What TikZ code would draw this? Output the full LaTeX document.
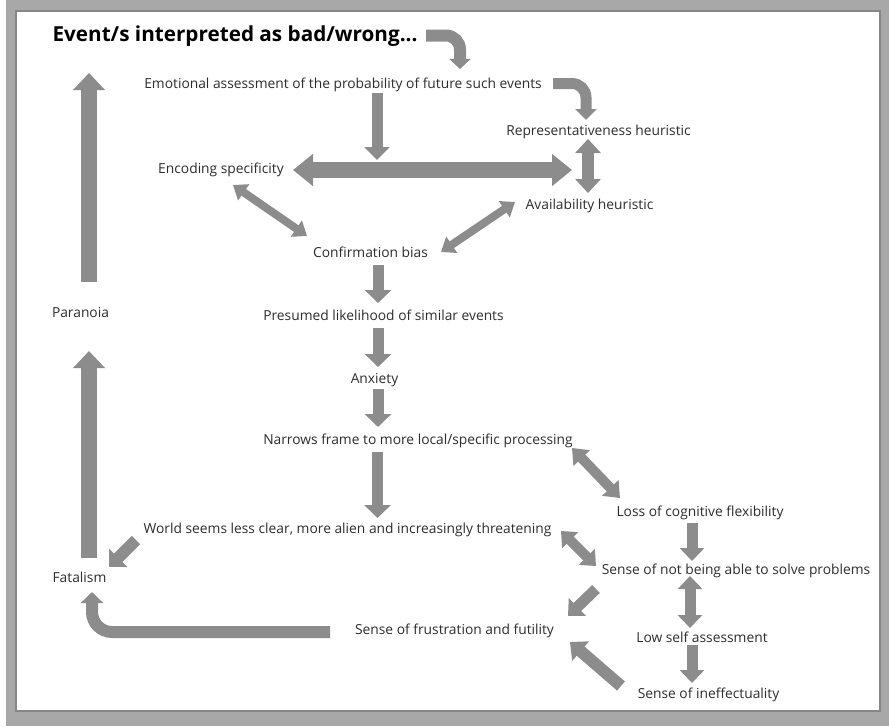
\documentclass[tikz,border=0pt]{standalone}
\usepackage{fontspec}
\setmainfont{Open Sans}
\usetikzlibrary{arrows.meta}

\definecolor{framegray}{RGB}{168,168,168}
\definecolor{frameline}{RGB}{135,135,135}
\definecolor{arrowgray}{RGB}{140,140,140}
\definecolor{textgray}{RGB}{45,45,45}

\tikzset{
  lbl/.style={anchor=base, inner sep=0pt, text=textgray,
    font=\fontsize{13.8}{16}\selectfont},
  ttl/.style={anchor=base, inner sep=0pt, text=black,
    font=\fontsize{20.7}{24}\selectfont\bfseries},
  blk/.style={draw=arrowgray, line width=#1},
  blk/.default=11pt,
  tip/.style 2 args={-{Triangle[width=#1,length=#2]}},
  dtip/.style 2 args={{Triangle[width=#1,length=#2]}-{Triangle[width=#1,length=#2]}},
}

\begin{document}
\begin{tikzpicture}[x=1pt,y=-1pt]
  \useasboundingbox (0,0) rectangle (889,726);
  % frame
  \fill[white] (0,0) rectangle (889,726);
  \fill[framegray] (6,0) rectangle (889,726);
  \fill[white] (16,11) rectangle (880,711);
  \draw[frameline, line width=1.2pt] (16,11) rectangle (880,711);

  % statements
  \node[ttl] (ev)   at (235,41.7) {Event/s interpreted as bad/wrong...};
  \node[lbl] (emo)  at (343,88)   {Emotional assessment of the probability of future such events};
  \node[lbl] (rep)  at (598.5,135) {Representativeness heuristic};
  \node[lbl] (enc)  at (221,173.5) {Encoding specificity};
  \node[lbl] (ava)  at (589.5,209) {Availability heuristic};
  \node[lbl] (conf) at (370.5,257) {Confirmation bias};
  \node[lbl] (pres) at (383.5,320) {Presumed likelihood of similar events};
  \node[lbl] (anx)  at (374.5,383) {Anxiety};
  \node[lbl] (nar)  at (418,444)   {Narrows frame to more local/specific processing};
  \node[lbl] (wor)  at (347.5,533) {World seems less clear, more alien and increasingly threatening};
  \node[lbl] (loss) at (700,516)   {Loss of cognitive flexibility};
  \node[lbl] (sns)  at (736,574)   {Sense of not being able to solve problems};
  \node[lbl] (fru)  at (454.5,634) {Sense of frustration and futility};
  \node[lbl] (low)  at (702,642)   {Low self assessment};
  \node[lbl] (ine)  at (708.5,698) {Sense of ineffectuality};
  \node[lbl] (par)  at (80.5,317)  {Paranoia};
  \node[lbl] (fat)  at (79.5,582)  {Fatalism};

  % connector end points
  \coordinate (evR)   at (426,35.5);
  \coordinate (emoT)  at (460,69);
  \coordinate (emoB)  at (377,93);
  \coordinate (midH)  at (377,160);
  \coordinate (emoR)  at (553,83.5);
  \coordinate (repT)  at (586,120);
  \coordinate (encR)  at (293,170);
  \coordinate (repL)  at (572,170);
  \coordinate (repB)  at (588,139);
  \coordinate (avaT)  at (588,193);
  \coordinate (encB)  at (233,185);
  \coordinate (confL) at (307,236);
  \coordinate (confR) at (441,252);
  \coordinate (avaL)  at (515,202);
  \coordinate (confB) at (378,265);
  \coordinate (presT) at (378,303);
  \coordinate (presB) at (378,328);
  \coordinate (anxT)  at (378,367);
  \coordinate (anxB)  at (378,389);
  \coordinate (narT)  at (378,427);
  \coordinate (narB)  at (377.5,452);
  \coordinate (worT)  at (377.5,518);
  \coordinate (narR)  at (572,448);
  \coordinate (lossL) at (620,498);
  \coordinate (worL)  at (136,540);
  \coordinate (fatR)  at (109,567);
  \coordinate (worR)  at (561,531);
  \coordinate (snsL)  at (596,566);
  \coordinate (lossB) at (692,523);
  \coordinate (snsT)  at (692,561);
  \coordinate (snsB)  at (690,576);
  \coordinate (lowT)  at (690,628);
  \coordinate (lowB)  at (692,645);
  \coordinate (ineT)  at (692,683);
  \coordinate (ineL)  at (621,686);
  \coordinate (fruR)  at (570,642);
  \coordinate (snsBL) at (596,589);
  \coordinate (fruTR) at (568,616);
  \coordinate (fruL)  at (330,632);
  \coordinate (fatB)  at (92,592);
  \coordinate (fatT)  at (89,558);
  \coordinate (parB)  at (89,351);
  \coordinate (parT)  at (89,282);
  \coordinate (evB)   at (89,73);

  % connectors
  \draw[blk=12pt, tip={21pt}{10pt}, rounded corners=14pt] (evR) -| (emoT);
  \draw[blk, tip={25pt}{13pt}] (emoB) -- (midH);
  \draw[blk, tip={21pt}{11pt}, rounded corners=14pt] (emoR) -| (repT);
  \draw[blk=16pt, dtip={31pt}{20pt}] (encR) -- (repL);
  \draw[blk=12pt, dtip={25pt}{14pt}] (repB) -- (avaT);
  \draw[blk=8pt, dtip={19pt}{13pt}] (encB) -- (confL);
  \draw[blk=8pt, dtip={19pt}{13pt}] (confR) -- (avaL);
  \draw[blk, tip={26pt}{13pt}] (confB) -- (presT);
  \draw[blk, tip={26pt}{13pt}] (presB) -- (anxT);
  \draw[blk, tip={26pt}{13pt}] (anxB) -- (narT);
  \draw[blk, tip={26pt}{13pt}] (narB) -- (worT);
  \draw[blk=10pt, dtip={22pt}{14pt}] (narR) -- (lossL);
  \draw[blk=12pt, tip={25pt}{13pt}] (worL) -- (fatR);
  \draw[blk=10pt, dtip={22pt}{13pt}] (worR) -- (snsL);
  \draw[blk, tip={24pt}{13pt}] (lossB) -- (snsT);
  \draw[blk, dtip={24pt}{13pt}] (snsB) -- (lowT);
  \draw[blk, tip={24pt}{13pt}] (lowB) -- (ineT);
  \draw[blk=12pt, tip={25pt}{14pt}] (ineL) -- (fruR);
  \draw[blk, tip={24pt}{13pt}] (snsBL) -- (fruTR);
  \draw[blk=12pt, tip={22pt}{11pt}, rounded corners=20pt] (fruL) -| (fatB);
  \draw[blk=16pt, tip={31pt}{17pt}] (fatT) -- (parB);
  \draw[blk=16pt, tip={31pt}{17pt}] (parT) -- (evB);
\end{tikzpicture}
\end{document}
